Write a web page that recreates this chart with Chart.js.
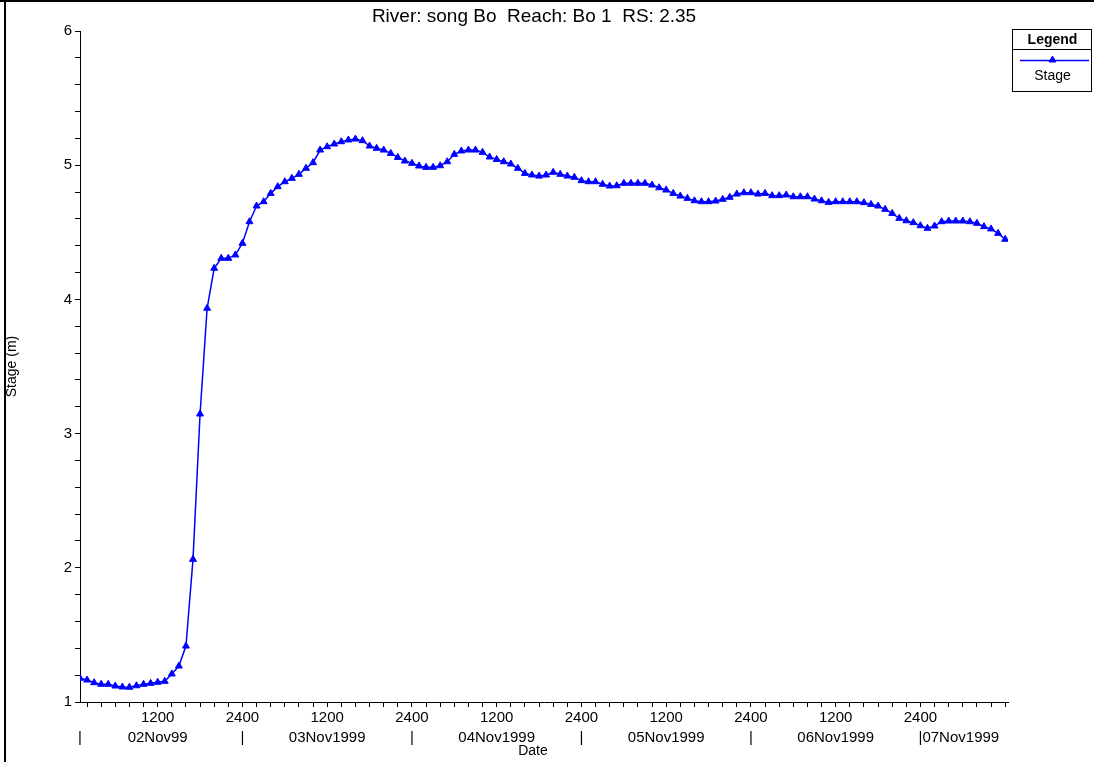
<!DOCTYPE html>
<html>
<head>
<meta charset="utf-8">
<title>Stage hydrograph - song Bo</title>
<script src="https://cdn.jsdelivr.net/npm/chart.js@4.4.0/dist/chart.umd.min.js"></script>
<style>
  html, body { margin: 0; padding: 0; background: #fff; }
  #wrap { position: relative; width: 1094px; height: 762px; }
</style>
</head>
<body>
<div id="wrap"><canvas id="stageChart" width="1094" height="762"></canvas></div>
<script>
const titleText = 'River: song Bo  Reach: Bo 1  RS: 2.35';

// hourly output, first value at 02Nov1999 0100
const firstHour = 1;
const stage = [
    1.177, 1.164, 1.144, 1.132, 1.132, 1.119, 1.112, 1.110, 1.121, 1.132, 1.139, 1.147,
    1.154, 1.209, 1.268, 1.417, 2.063, 3.146, 3.934, 4.232, 4.306, 4.306, 4.331, 4.418,
    4.579, 4.696, 4.728, 4.790, 4.840, 4.877, 4.902, 4.932, 4.977, 5.019, 5.113, 5.138,
    5.158, 5.175, 5.188, 5.195, 5.183, 5.143, 5.126, 5.113, 5.088, 5.058, 5.031, 5.014,
    4.994, 4.984, 4.984, 4.996, 5.026, 5.081, 5.106, 5.113, 5.113, 5.096, 5.061, 5.043,
    5.026, 5.009, 4.977, 4.939, 4.927, 4.919, 4.927, 4.947, 4.932, 4.919, 4.910, 4.885,
    4.877, 4.877, 4.858, 4.845, 4.847, 4.865, 4.865, 4.865, 4.865, 4.852, 4.832, 4.815,
    4.790, 4.770, 4.753, 4.735, 4.728, 4.728, 4.733, 4.746, 4.761, 4.785, 4.795, 4.795,
    4.785, 4.790, 4.773, 4.773, 4.778, 4.765, 4.765, 4.765, 4.748, 4.735, 4.723, 4.728,
    4.728, 4.728, 4.728, 4.721, 4.708, 4.696, 4.671, 4.641, 4.604, 4.586, 4.572, 4.549,
    4.530, 4.547, 4.579, 4.584, 4.584, 4.584, 4.579, 4.567, 4.542, 4.525, 4.492, 4.448
];

// axis labelling
const dayStarts = [0, 24, 48, 72, 96, 120];
const dayLabels = ['02Nov99', '03Nov1999', '04Nov1999', '05Nov1999', '06Nov1999', '07Nov1999'];
const clockLabels = { 12: '1200', 0: '2400' };
const lastClockLabel = 120;
const yMin = 1, yMax = 6;

const FONT = '"Liberation Sans", Arial, sans-serif';
Chart.defaults.font.family = FONT;
Chart.defaults.color = '#000';

const points = stage.map((v, i) => ({ x: firstHour + i, y: v }));

// title, second row of date labels, axis caption, legend box and page frame
const decorations = {
    id: 'decorations',
    afterDraw(chart) {
        const { ctx, scales: { x }, chartArea } = chart;
        ctx.save();
        ctx.fillStyle = '#000';
        ctx.textBaseline = 'middle';

        // frame
        ctx.fillRect(0, 0, 1094, 2);
        ctx.fillRect(4, 0, 2, 762);

        ctx.font = '19px ' + FONT;
        ctx.textAlign = 'center';
        ctx.fillText(titleText, 534, 17);

        // day markers and dates under the clock labels
        ctx.font = '15px ' + FONT;
        const rowY = 738;
        dayStarts.forEach((h, i) => {
            const px = x.getPixelForValue(Math.max(h, x.min));
            ctx.textAlign = 'center';
            ctx.fillText('|', px, rowY);
            const label = dayLabels[i];
            const mid = x.getPixelForValue(h + 12);
            const w = ctx.measureText(label).width;
            if (mid + w / 2 > chartArea.right) {
                ctx.textAlign = 'left';
                ctx.fillText(label, px + 2, rowY);
            } else {
                ctx.fillText(label, mid, rowY);
            }
        });

        ctx.textAlign = 'center';
        ctx.font = '14px ' + FONT;
        ctx.fillText('Date', 533, 751);

        // legend
        const lx = 1012, ly = 29, lw = 79, lh = 62;
        ctx.strokeStyle = '#000';
        ctx.lineWidth = 1;
        ctx.strokeRect(lx + 0.5, ly + 0.5, lw, lh);
        ctx.beginPath();
        ctx.moveTo(lx, ly + 20.5);
        ctx.lineTo(lx + lw, ly + 20.5);
        ctx.stroke();
        ctx.font = 'bold 14px ' + FONT;
        ctx.fillText('Legend', lx + lw / 2 + 1, ly + 11);
        ctx.strokeStyle = '#0000ff';
        ctx.lineWidth = 1.5;
        ctx.beginPath();
        ctx.moveTo(lx + 8, ly + 31.5);
        ctx.lineTo(lx + lw - 2, ly + 31.5);
        ctx.stroke();
        ctx.fillStyle = '#0000ff';
        ctx.lineWidth = 1;
        Chart.helpers.drawPoint(ctx, { pointStyle: 'triangle', radius: 4, borderWidth: 1 }, lx + lw / 2 + 1, ly + 31);
        ctx.fillStyle = '#000';
        ctx.font = '14px ' + FONT;
        ctx.fillText('Stage', lx + lw / 2 + 1, ly + 47);

        ctx.restore();
    }
};

const ctx = document.getElementById('stageChart').getContext('2d');
const stageChart = new Chart(ctx, {
    type: 'line',
    data: {
        datasets: [{
            label: 'Stage',
            data: points,
            borderColor: '#0000ff',
            backgroundColor: '#0000ff',
            borderWidth: 1.5,
            pointStyle: 'triangle',
            pointRadius: 4,
            pointBorderWidth: 1,
            tension: 0,
            fill: false
        }]
    },
    options: {
        responsive: false,
        animation: false,
        devicePixelRatio: 1,
        layout: { padding: { left: 0, top: 31, right: 86, bottom: 0 } },
        plugins: {
            legend: { display: false },
            tooltip: { enabled: false },
            title: { display: false }
        },
        scales: {
            x: {
                type: 'linear',
                min: firstHour,
                max: 132.4,
                afterBuildTicks(scale) {
                    const ticks = [];
                    for (let h = 2; h <= 132; h += 2) ticks.push({ value: h });
                    scale.ticks = ticks;
                },
                afterFit(scale) { scale.height = 60; },
                ticks: {
                    autoSkip: false,
                    maxRotation: 0,
                    padding: 2,
                    font: { size: 15 },
                    callback: function(value) {
                        if (value % 12 !== 0 || value > lastClockLabel) return '';
                        return clockLabels[value % 24];
                    }
                },
                grid: { drawOnChartArea: false, tickLength: 5, tickColor: '#000' },
                border: { color: '#000', width: 1 }
            },
            y: {
                min: yMin,
                max: yMax,
                afterBuildTicks(scale) {
                    const ticks = [];
                    for (let k = 0; k <= 25; k++) ticks.push({ value: yMin + k * 0.2 });
                    scale.ticks = ticks;
                },
                afterFit(scale) { scale.width = 80; },
                ticks: {
                    autoSkip: false,
                    padding: 3,
                    font: { size: 15 },
                    callback: function(value) {
                        const r = Math.round(value);
                        return Math.abs(value - r) < 1e-6 ? String(r) : '';
                    }
                },
                title: {
                    display: true,
                    text: 'Stage (m)',
                    font: { size: 14 },
                    padding: { top: 4, bottom: 0 }
                },
                grid: { drawOnChartArea: false, tickLength: 5, tickColor: '#000' },
                border: { color: '#000', width: 1 }
            }
        }
    },
    plugins: [decorations]
});
</script>
</body>
</html>
